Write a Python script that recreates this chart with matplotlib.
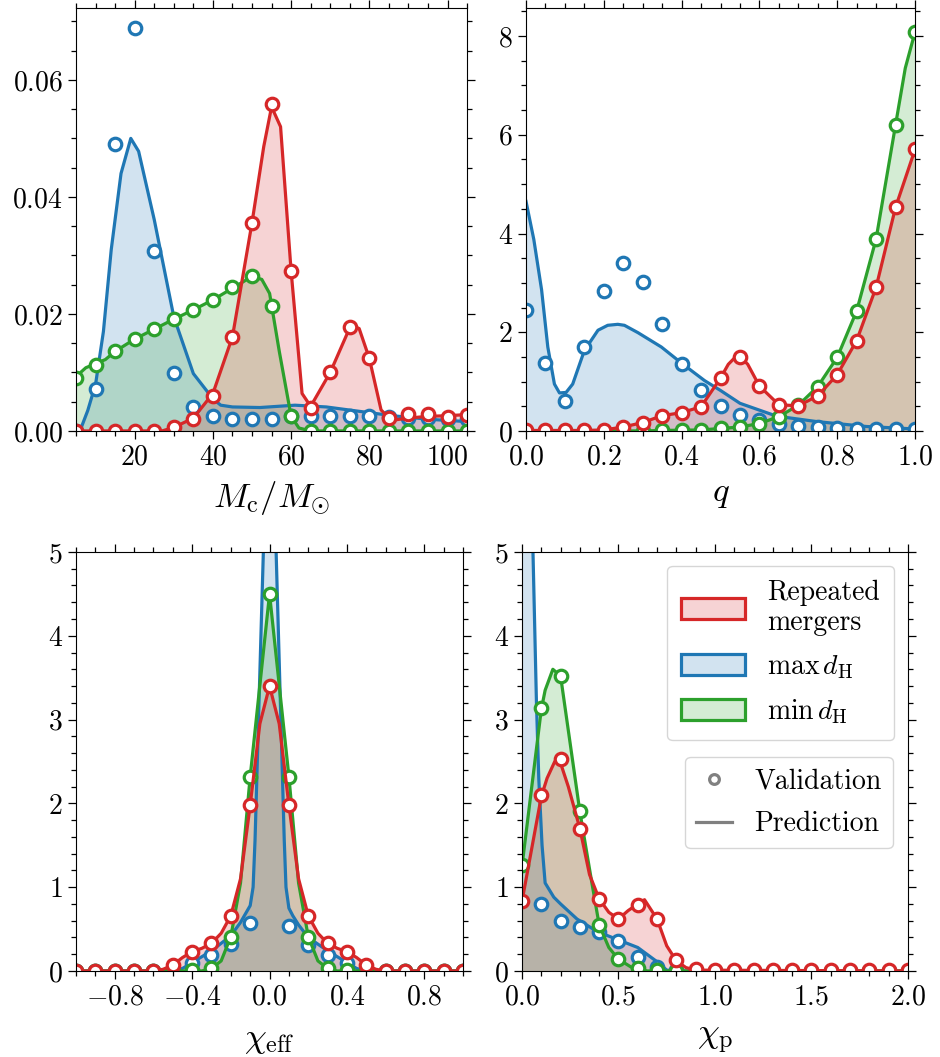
import numpy as np
import matplotlib
matplotlib.use("Agg")
import matplotlib.pyplot as plt
from matplotlib.patches import Patch
from matplotlib.lines import Line2D
from matplotlib.ticker import MultipleLocator, FuncFormatter

plt.rcParams.update({
    "font.family": "serif",
    "font.serif": ["cmr10"],
    "mathtext.fontset": "cm",
    "axes.formatter.use_mathtext": True,
    "font.size": 20,
})

RED = "#d62728"
BLUE = "#1f77b4"
GREEN = "#2ca02c"

# ---------------------------------------------------------------------------
# Chirp mass
# ---------------------------------------------------------------------------
mc_grid = np.arange(5, 106, 5)
mc_val_blue = [0, 0.0071, 0.0491, 0.0688, 0.0307, 0.0099, 0.0041, 0.0025, 0.0021, 0.0020, 0.0021,
               0.0025, 0.0025, 0.0025, 0.0025, 0.0026, 0.0023, 0.0022, 0.0022, 0.0021, 0.0020]
mc_val_green = [0.0090, 0.0113, 0.0137, 0.0157, 0.0174, 0.0191, 0.0207, 0.0224, 0.0246, 0.0264, 0.0214,
                0.0026, 0, 0, 0, 0, 0, 0, 0, 0, 0]
mc_val_red = [0, 0, 0, 0, 0, 0.0006, 0.0020, 0.0060, 0.0161, 0.0356, 0.0559,
              0.0274, 0.0039, 0.0100, 0.0178, 0.0124, 0.0022, 0.0029, 0.0029, 0.0023, 0.0027]

mc_pred_blue_x = [5, 6, 8, 10, 12, 14, 16.5, 19, 21, 25, 30, 35, 40, 42, 45, 52, 61, 69, 78, 86, 95, 105]
mc_pred_blue = [0, 0, 0.0035, 0.008, 0.017, 0.031, 0.044, 0.050, 0.0478, 0.0361, 0.0195, 0.0098,
                0.0055, 0.0044, 0.0041, 0.0040, 0.0044, 0.0041, 0.0033, 0.0026, 0.0020, 0.0016]
mc_pred_green_x = [5, 7.5, 10, 12.5, 15, 20, 25, 30, 35, 40, 45, 50, 52.5, 54.5, 57, 60, 62, 65, 105]
mc_pred_green = [0.0093, 0.0108, 0.0115, 0.0122, 0.0136, 0.0157, 0.0174, 0.0191, 0.0207, 0.0224,
                 0.0244, 0.0264, 0.0259, 0.0235, 0.0135, 0.0025, 0.0005, 0, 0]
mc_pred_red_x = [5, 7, 27, 30, 35, 40, 45, 50, 53, 55, 57.3, 60, 62.8, 65, 70, 75.3, 77.4, 80, 83,
                 85.6, 90, 95, 100, 105]
mc_pred_red = [0.0007, 0, 0, 0.0006, 0.0022, 0.0064, 0.0161, 0.0356, 0.0486, 0.0554, 0.0520, 0.0273,
               0.0064, 0.0042, 0.0100, 0.0181, 0.0175, 0.0124, 0.0036, 0.0018, 0.0022, 0.0025,
               0.0026, 0.0028]

# ---------------------------------------------------------------------------
# Mass ratio
# ---------------------------------------------------------------------------
q_grid = np.linspace(0, 1, 21)
q_val_blue = [2.46, 1.37, 0.61, 1.70, 2.84, 3.40, 3.01, 2.16, 1.36, 0.82, 0.51, 0.33, 0.22, 0.14,
              0.09, 0.07, 0.05, 0.04, 0.03, 0.03, 0.03]
q_val_green = [0, 0, 0, 0, 0, 0, 0, 0.01, 0.01, 0.01, 0.05, 0.08, 0.15, 0.29, 0.52, 0.90, 1.49,
               2.43, 3.89, 6.20, 8.08]
q_val_red = [0.01, 0.01, 0.01, 0.01, 0.02, 0.08, 0.17, 0.31, 0.37, 0.49, 1.07, 1.49, 0.91, 0.53,
             0.51, 0.71, 1.14, 1.83, 2.91, 4.53, 5.72]

q_pred_blue_x = [0, 0.02, 0.04, 0.056, 0.073, 0.086, 0.103, 0.12, 0.15, 0.185, 0.21, 0.236, 0.253,
                 0.288, 0.348, 0.402, 0.459, 0.5, 0.55, 0.644, 0.747, 0.875, 1.0]
q_pred_blue = [4.65, 3.88, 2.86, 1.70, 0.95, 0.77, 0.78, 0.95, 1.63, 2.04, 2.14, 2.16, 2.14, 1.99,
               1.70, 1.36, 1.02, 0.82, 0.56, 0.30, 0.19, 0.09, 0.04]
q_pred_green_x = [0, 0.3, 0.35, 0.45, 0.5, 0.55, 0.6, 0.65, 0.7, 0.75, 0.8, 0.85, 0.9, 0.95, 0.975, 1.0]
q_pred_green = [0, 0, 0.01, 0.02, 0.05, 0.08, 0.15, 0.29, 0.52, 0.90, 1.49, 2.43, 3.89, 6.20, 7.35, 8.08]
q_pred_red_x = [0, 0.15, 0.2, 0.25, 0.3, 0.35, 0.4, 0.45, 0.5, 0.52, 0.545, 0.57, 0.6, 0.65, 0.7,
                0.75, 0.8, 0.85, 0.9, 0.95, 1.0]
q_pred_red = [0.01, 0.01, 0.02, 0.08, 0.17, 0.31, 0.37, 0.49, 1.07, 1.35, 1.55, 1.35, 0.91, 0.53,
              0.51, 0.71, 1.14, 1.83, 2.91, 4.53, 5.70]

# ---------------------------------------------------------------------------
# Effective spin
# ---------------------------------------------------------------------------
ceff_grid = np.linspace(-1, 1, 21)
ceff_val_blue = [0, 0, 0, 0, 0, 0.01, 0.09, 0.19, 0.32, 0.57, 8.0, 0.54, 0.31, 0.19, 0.09, 0.01,
                 0, 0, 0, 0, 0]
ceff_val_green = [0, 0, 0, 0, 0, 0, 0.01, 0.03, 0.41, 2.32, 4.50, 2.32, 0.41, 0.03, 0.01, 0,
                  0, 0, 0, 0, 0]
ceff_val_red = [0, 0, 0, 0, 0, 0.07, 0.23, 0.33, 0.66, 1.98, 3.40, 1.98, 0.66, 0.33, 0.23, 0.07,
                0, 0, 0, 0, 0]

ceff_pred_blue_x = [-1, -0.5, -0.45, -0.4, -0.3, -0.2, -0.15, -0.12, -0.1, -0.085, -0.075, -0.032, 0,
                    0.034, 0.076, 0.085, 0.1, 0.12, 0.15, 0.2, 0.3, 0.4, 0.45, 0.5, 1]
ceff_pred_blue = [0, 0, 0.03, 0.10, 0.24, 0.42, 0.58, 0.70, 0.78, 1.0, 1.56, 5.0, 7.6,
                  5.0, 1.56, 1.0, 0.75, 0.66, 0.55, 0.40, 0.24, 0.10, 0.03, 0, 0]
ceff_pred_green_x = [-1, -0.35, -0.3, -0.25, -0.2, -0.15, -0.1, -0.05, 0, 0.05, 0.1, 0.15, 0.2, 0.25,
                     0.3, 0.35, 1]
ceff_pred_green = [0, 0, 0.03, 0.12, 0.41, 1.05, 2.32, 3.41, 4.50, 3.41, 2.32, 1.05, 0.41, 0.12,
                   0.03, 0, 0]
ceff_pred_red_x = [-1, -0.6, -0.55, -0.5, -0.45, -0.4, -0.35, -0.3, -0.25, -0.2, -0.15, -0.1, -0.05, 0,
                   0.05, 0.1, 0.15, 0.2, 0.25, 0.3, 0.35, 0.4, 0.45, 0.5, 0.55, 0.6, 1]
ceff_pred_red = [0, 0, 0.02, 0.07, 0.16, 0.23, 0.27, 0.33, 0.45, 0.66, 1.10, 1.98, 2.95, 3.40,
                 2.95, 1.98, 1.10, 0.66, 0.45, 0.33, 0.27, 0.23, 0.16, 0.07, 0.02, 0, 0]

# ---------------------------------------------------------------------------
# Precessing spin
# ---------------------------------------------------------------------------
cp_grid = np.linspace(0, 2, 21)
cp_val_blue = [9.0, 0.80, 0.60, 0.52, 0.46, 0.36, 0.17, 0.05, 0.01, 0, 0, 0, 0, 0, 0, 0, 0, 0, 0, 0, 0]
cp_val_green = [1.26, 3.14, 3.52, 1.91, 0.55, 0.14, 0.03, 0.01, 0, 0, 0, 0, 0, 0, 0, 0, 0, 0, 0, 0, 0]
cp_val_red = [0.83, 2.10, 2.53, 1.70, 0.86, 0.62, 0.79, 0.62, 0.13, 0.02, 0.01, 0.01, 0.01, 0.01,
              0.01, 0.01, 0.01, 0.01, 0.01, 0.01, 0.01]

cp_pred_blue_x = [0, 0.057, 0.075, 0.087, 0.104, 0.12, 0.165, 0.2, 0.285, 0.39, 0.5, 0.6, 0.7, 0.75,
                  0.8, 2.0]
cp_pred_blue = [10.6, 5.0, 3.2, 2.3, 1.5, 1.05, 0.88, 0.80, 0.62, 0.47, 0.37, 0.28, 0.11, 0.01, 0, 0]
cp_pred_green_x = [0, 0.1, 0.12, 0.16, 0.2, 0.3, 0.36, 0.4, 0.45, 0.5, 0.57, 0.65, 2.0]
cp_pred_green = [1.25, 3.12, 3.35, 3.60, 3.52, 1.90, 1.08, 0.55, 0.28, 0.14, 0.04, 0, 0]
cp_pred_red_x = [0, 0.1, 0.13, 0.17, 0.2, 0.24, 0.3, 0.35, 0.4, 0.45, 0.5, 0.55, 0.6, 0.635, 0.7,
                 0.75, 0.8, 0.85, 0.9, 2.0]
cp_pred_red = [0.83, 2.08, 2.30, 2.50, 2.48, 2.20, 1.70, 1.15, 0.86, 0.70, 0.62, 0.72, 0.80, 0.85,
               0.62, 0.30, 0.12, 0.04, 0.01, 0.0]


def fmt(spec):
    def _f(v, _pos):
        if abs(v) < 1e-9:
            v = 0.0
        return "$" + format(v, spec) + "$"
    return FuncFormatter(_f)


def draw_panel(ax, series, xlim, ylim, xmaj, xmin, ymaj, ymin, xfmt, yfmt, xlabel, labelpad):
    for color, gx, gv, px, pv in series:
        ax.fill_between(px, pv, color=color, alpha=0.2, lw=0)
        ax.plot(px, pv, color=color, lw=2.3)
        ax.plot(gx, gv, "o", ms=9, mew=2.3, mfc="white", mec=color, ls="none")
    ax.set_xlim(*xlim)
    ax.set_ylim(*ylim)
    ax.xaxis.set_major_locator(MultipleLocator(xmaj))
    ax.xaxis.set_minor_locator(MultipleLocator(xmin))
    ax.yaxis.set_major_locator(MultipleLocator(ymaj))
    ax.yaxis.set_minor_locator(MultipleLocator(ymin))
    ax.xaxis.set_major_formatter(fmt(xfmt))
    ax.yaxis.set_major_formatter(fmt(yfmt))
    ax.tick_params(which="both", direction="out", top=True, right=True, width=0.9)
    ax.tick_params(which="major", length=6, labelsize=20)
    ax.tick_params(which="minor", length=3.5)
    ax.set_xlabel(xlabel, fontsize=25, labelpad=labelpad)


fig = plt.figure(figsize=(9.4, 10.57), dpi=100)
ax_mc = fig.add_axes([0.0809, 0.5923, 0.416, 0.4002])
ax_q = fig.add_axes([0.5596, 0.5923, 0.4138, 0.4002])
ax_ce = fig.add_axes([0.0809, 0.0814, 0.4117, 0.3964])
ax_cp = fig.add_axes([0.5553, 0.0814, 0.4106, 0.3964])

draw_panel(ax_mc,
           [(BLUE, mc_grid, mc_val_blue, mc_pred_blue_x, mc_pred_blue),
            (GREEN, mc_grid, mc_val_green, mc_pred_green_x, mc_pred_green),
            (RED, mc_grid, mc_val_red, mc_pred_red_x, mc_pred_red)],
           (5, 105), (0, 0.0723), 20, 5, 0.02, 0.005, ".0f", ".2f",
           r"$M_{\rm c}/M_{\odot}$", 6)
draw_panel(ax_q,
           [(BLUE, q_grid, q_val_blue, q_pred_blue_x, q_pred_blue),
            (GREEN, q_grid, q_val_green, q_pred_green_x, q_pred_green),
            (RED, q_grid, q_val_red, q_pred_red_x, q_pred_red)],
           (0, 1), (0, 8.57), 0.2, 0.05, 2, 0.5, ".1f", ".0f", r"$q$", 6)
draw_panel(ax_ce,
           [(BLUE, ceff_grid, ceff_val_blue, ceff_pred_blue_x, ceff_pred_blue),
            (GREEN, ceff_grid, ceff_val_green, ceff_pred_green_x, ceff_pred_green),
            (RED, ceff_grid, ceff_val_red, ceff_pred_red_x, ceff_pred_red)],
           (-1, 1), (0, 5), 0.4, 0.1, 1, 0.2, ".1f", ".0f", r"$\chi_{\rm eff}$", 10)
draw_panel(ax_cp,
           [(BLUE, cp_grid, cp_val_blue, cp_pred_blue_x, cp_pred_blue),
            (GREEN, cp_grid, cp_val_green, cp_pred_green_x, cp_pred_green),
            (RED, cp_grid, cp_val_red, cp_pred_red_x, cp_pred_red)],
           (0, 2), (0, 5), 0.5, 0.1, 1, 0.2, ".1f", ".0f", r"$\chi_{\rm p}$", 10)

# Population legend
pop_handles = [Patch(facecolor=(c, 0.2), edgecolor=c, lw=2.3) for c in (RED, BLUE, GREEN)]
pop_labels = ["Repeated\nmergers", r"$\max\,d_{\rm H}$", r"$\min\,d_{\rm H}$"]
leg1 = ax_cp.legend(pop_handles, pop_labels, loc="upper right", fontsize=20,
                    handlelength=2.3, handleheight=0.8, borderpad=0.5, labelspacing=0.6)
ax_cp.add_artist(leg1)

# Validation vs prediction legend
style_handles = [Line2D([], [], marker="o", ls="none", ms=7, mew=2.3, mfc="white", mec="grey"),
                 Line2D([], [], color="grey", lw=2.3)]
ax_cp.legend(style_handles, ["Validation", "Prediction"], loc="upper right",
             bbox_to_anchor=(0.961, 0.511), borderaxespad=0, fontsize=20, handlelength=1.3,
             labelspacing=0.6)

fig.savefig("out.png", dpi=100)
